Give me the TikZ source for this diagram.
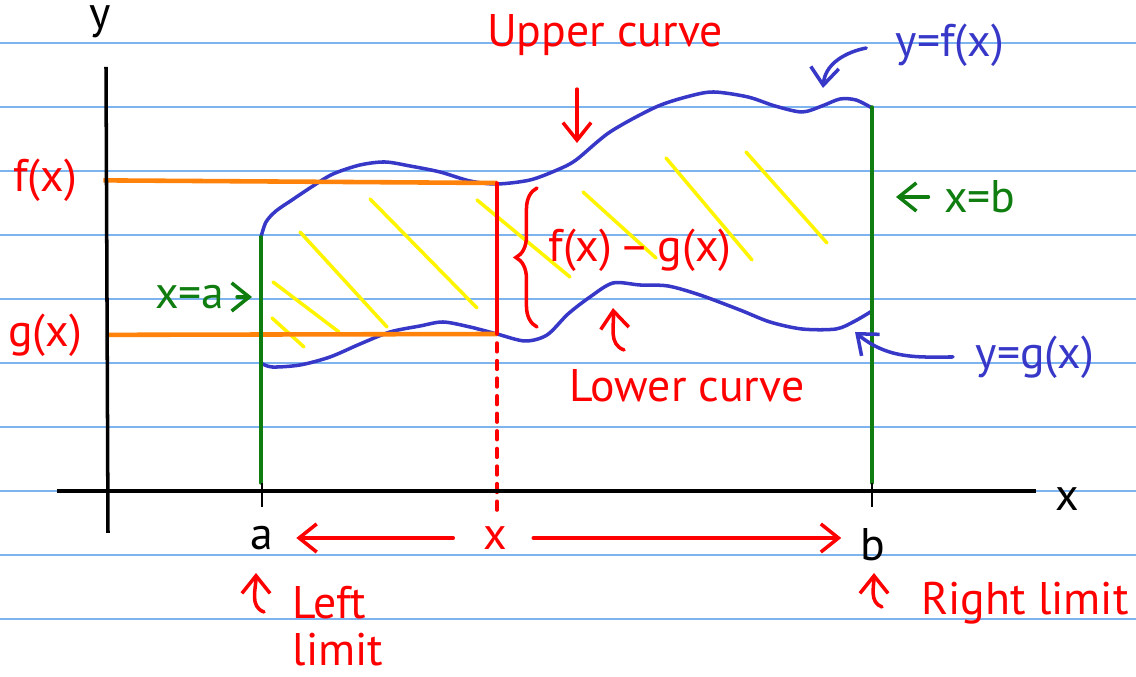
\documentclass[tikz,border=0pt]{standalone}
\usepackage{fontspec}
\setmainfont{PT Sans}
\usepackage{xcolor}
\usepackage{tikz}
\usetikzlibrary{arrows.meta,positioning,calc,decorations.pathreplacing}
\definecolor{ruled}{RGB}{125,180,240}
\definecolor{curveblue}{RGB}{55,55,200}
\definecolor{limgreen}{RGB}{15,125,15}
\definecolor{hatch}{RGB}{255,245,0}
\definecolor{level}{RGB}{255,130,10}

\begin{document}
\begin{tikzpicture}[x=0.01cm,y=-0.01cm,font=\fontsize{13}{13.5}\selectfont,
  >={Straight Barb[length=5pt,width=8pt]},
  pen/.style={line width=1pt,line cap=round},
  arr/.style={->,pen},
  curve/.style={pen,curveblue,line join=round}]
\useasboundingbox (0,0) rectangle (1136,677);

% ruled paper
\foreach \ly in {43,107,...,619}
  \draw[ruled,line width=0.6pt] (0,\ly) -- (1136,\ly);

% hatching between the curves
\foreach \hx/\hy/\ex/\ey in {272/318/304/347, 273/282/339/332, 300/232/387/327,
    370/199/477/308, 477/200/570/277, 583/192/656/258, 666/158/752/260,
    746/152/827/243}
  \draw[hatch,pen] (\hx,\hy) -- (\ex,\ey);

% upper and lower curves
\draw[curve] plot[smooth,tension=0.5] coordinates {(261,237) (266,222) (276,211)
  (292,200) (313,186) (333,174) (360,165) (385,162) (410,166) (440,172) (470,181)
  (497,184) (530,180) (557,170) (576,160) (610,132) (656,107) (690,96) (714,92)
  (748,97) (775,106) (802,112) (822,106) (840,99) (856,100) (872,108)};
\draw[curve] plot[smooth,tension=0.5] coordinates {(261,363) (272,367) (300,365)
  (330,357) (360,344) (390,332) (420,326) (443,322) (470,327) (497,334) (525,341)
  (547,335) (568,314) (590,297) (613,283) (640,285) (668,286) (700,295) (740,310)
  (770,322) (802,329) (836,329) (855,321) (872,311)};

% f(x) and g(x) levels
\node[red] (flab) at (45,180) {f(x)};
\node[red] (glab) at (45,335) {g(x)};
\coordinate (fx) at (497,183);
\coordinate (gx) at (497,334);
\draw[level,line width=1.3pt,shorten <=4pt] (flab) -- (fx);
\draw[level,line width=1.3pt,shorten <=4pt] (glab) -- (gx);

% left and right limits
\coordinate (atop) at (261,237);
\coordinate (abot) at (261,483);
\coordinate (btop) at (872,107);
\coordinate (bbot) at (872,483);
\draw[limgreen,pen] (atop) -- (abot);
\draw[limgreen,pen] (btop) -- (bbot);

% slice at x
\coordinate (xfoot) at (497,512);
\draw[red,pen] (fx) -- (gx);
\draw[red,pen,dash pattern=on 2.5pt off 2.5pt] ($(gx)+(0,9)$) -- (xfoot);
\coordinate (brlo) at (537,327);
\coordinate (brhi) at (537,188);
\draw[red,pen,decorate,decoration={brace,amplitude=6pt}] (brlo) -- (brhi);
\node[red] (fg) at (640,250) {f(x)\,--\,g(x)};

% axes
\coordinate (xl) at (57,491);
\coordinate (xr) at (1036,491);
\coordinate (yb) at (108,533);
\coordinate (yt) at (106,67);
\draw[line width=1.1pt] (xl) -- (xr);
\draw[line width=1pt] (yb) -- (yt);
\draw[thick] ($(abot)+(1,0)$) -- ($(abot)+(1,24)$);
\draw[thick] (bbot) -- ($(bbot)+(0,24)$);
\node (xlab) at (1067,499) {x};
\node (ylab) at (100,22) {y};

% labels on the axis
\node (alab) at (262,538) {a};
\node (blab) at (873,545) {b};
\node[red] (xmid) at (495,538) {x};
\draw[red,arr,shorten <=5pt,shorten >=3pt] (xmid) -- (alab);
\draw[red,arr,shorten <=4pt,shorten >=2pt] (xmid) -- (xmid -| blab.west);

\node[red,align=left] (leftlim) at (338,626) {Left\\limit};
\node[red] (rightlim) at (1025,603) {Right limit};
\coordinate (latail) at (264,612);
\coordinate (latip) at (256,573);
\coordinate (rbtail) at (882,607);
\coordinate (rbtip) at (874,573);
\draw[red,arr] (latail) to[out=160,in=-90] (latip);
\draw[red,arr] (rbtail) to[out=160,in=-90] (rbtip);

% curve names
\node[red] (upper) at (605,35) {Upper curve};
\coordinate (uptip) at (577,143);
\draw[red,arr,shorten <=6pt] (upper.south -| uptip) -- (uptip);
\node[red] (lower) at (687,386) {Lower curve};
\coordinate (lowtail) at (624,350);
\coordinate (lowtip) at (613,308);
\draw[red,arr] (lowtail) to[out=160,in=-85] (lowtip);

\node[curveblue] (yf) at (950,45) {y=f(x)};
\coordinate (yftip) at (823,88);
\draw[curveblue,arr,shorten <=5pt] (yf.west) to[out=190,in=85] (yftip);
\node[curveblue] (yg) at (1035,357) {y=g(x)};
\coordinate (ygtip) at (855,332);
\draw[curveblue,arr,shorten <=3pt] (yg.west) to[out=180,in=-40] (ygtip);

% limit lines named
\node[limgreen] (xa) at (190,297) {x=a};
\coordinate (xatip) at (252,297);
\draw[limgreen,arr] (xa.east) -- (xatip);
\node[limgreen] (xb) at (980,197) {x=b};
\coordinate (xbtip) at (896,197);
\draw[limgreen,arr,shorten <=1pt] (xb.west) -- (xbtip);
\end{tikzpicture}
\end{document}
